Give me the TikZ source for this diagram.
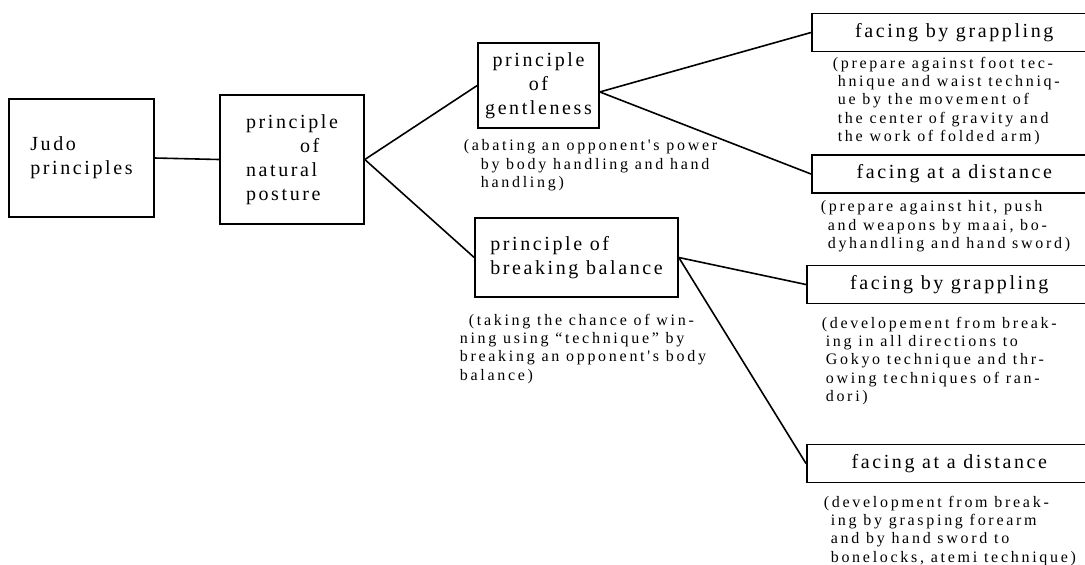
\documentclass[tikz,border=0pt]{standalone}
\usepackage{fontspec}
\setmainfont{Liberation Serif}
\newfontfamily\boxfont{Liberation Serif}[LetterSpace=13]
\newfontfamily\notefont{Liberation Serif}[LetterSpace=17]

\begin{document}
\begin{tikzpicture}[x=0.5pt, y=-0.5pt, line width=0.8pt]
		\tikzstyle{box}=[draw, inner sep=0pt, font=\boxfont\fontsize{10}{12}\selectfont]
		\tikzstyle{leaf}=[box, anchor=west, minimum width=142.5pt, minimum height=19pt]
		\tikzstyle{note}=[anchor=north west, inner sep=0pt, align=left, font=\notefont\fontsize{8}{9.2}\selectfont]
		\useasboundingbox (0,0) rectangle (1085,564);
		\clip (0,0) rectangle (1085,564);
		
		\node[box, minimum width=72.5pt, minimum height=59pt, align=left]   (judo)    at (81.5,158)  {Judo\\principles};
		\node[box, minimum width=72pt, minimum height=64.5pt, align=left]   (natural) at (292,159.5) {principle\\\hspace*{27pt}of\\natural\\posture};
		\node[box, minimum width=60.5pt, minimum height=42.5pt, align=center] (gentle) at (538.5,85.5) {principle\\of\\gentleness};
		\node[box, minimum width=101.5pt, minimum height=39.5pt, align=left] (breaking) at (576.5,257.5) {principle of\\breaking balance};
		
		\node[leaf] (grapA) at (811,32.5)  {facing by grappling};
		\node[leaf] (distA) at (811,174)   {facing at a distance};
		\node[leaf] (grapB) at (806,284.5) {facing by grappling};
		\node[leaf] (distB) at (806,463.5) {facing at a distance};
		
		\node[note] (gentleNote) at (463,139) {(abating an opponent's power\\\hspace*{8.5pt}by body handling and hand\\\hspace*{8.5pt}handling)};
		\node[note] (breakingNote) at (459,313) {\hspace*{4.5pt}(taking the chance of win-\\ning using “technique” by\\breaking an opponent's body\\balance)};
		\node[note] (grapANote) at (832,56)  {(prepare against foot tec-\\\hspace*{2.5pt}hnique and waist techniq-\\\hspace*{2.5pt}ue by the movement of\\\hspace*{2.5pt}the center of gravity and\\\hspace*{2.5pt}the work of folded arm)};
		\node[note] (distANote) at (820,200) {(prepare against hit, push\\\hspace*{3.5pt}and weapons by maai, bo-\\\hspace*{3.5pt}dyhandling and hand sword)};
		\node[note] (grapBNote) at (821,316) {(developement from break-\\\hspace*{2pt}ing in all directions to\\\hspace*{2pt}Gokyo technique and thr-\\\hspace*{2pt}owing techniques of ran-\\\hspace*{2pt}dori)};
		\node[note] (distBNote) at (823,495) {(development from break-\\\hspace*{3.5pt}ing by grasping forearm\\\hspace*{3.5pt}and by hand sword to\\\hspace*{3.5pt}bonelocks, atemi technique)};
		
		\path
		(judo.east)     edge (natural.west)
		(natural.east)  edge (gentle.west)
		(natural.east)  edge (breaking.west)
		(gentle.-6)     edge (grapA.west)
		(gentle.-6)     edge (distA.west)
		(breaking.east) edge (grapB.west)
		(breaking.east) edge (distB.west)
		;
\end{tikzpicture}
\end{document}
